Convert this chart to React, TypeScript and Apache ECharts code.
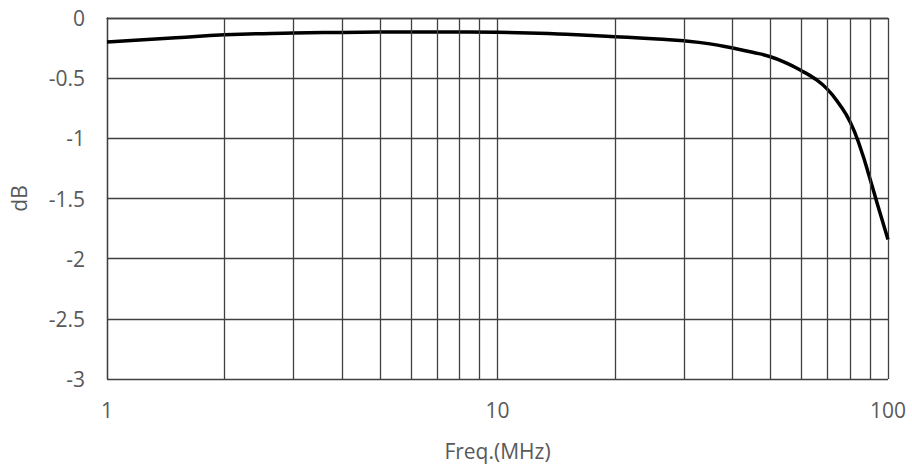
import React, { useEffect, useRef } from "react";
import * as echarts from "echarts";

const freqMHz = [1, 1.5, 2, 3, 4, 5, 7, 10, 15, 20, 25, 30, 35, 40, 45, 50, 55, 60, 65, 70, 75, 80, 85, 90, 95, 100];
const gainDb = [-0.2, -0.165, -0.14, -0.125, -0.12, -0.117, -0.116, -0.119, -0.135, -0.155, -0.172, -0.19, -0.215, -0.25, -0.285, -0.322, -0.375, -0.438, -0.505, -0.593, -0.715, -0.865, -1.08, -1.34, -1.6, -1.84];
const minorGridFreqs = [2, 3, 4, 5, 6, 7, 8, 9, 20, 30, 40, 50, 60, 70, 80, 90];

const FONT = "'Open Sans', sans-serif";
const TEXT_COLOR = "#595959";
const GRID_COLOR = "#404040";

export default function App() {
  const ref = useRef<HTMLDivElement>(null);
  useEffect(() => {
    if (!ref.current) return;
    const chart = echarts.init(ref.current, null, { renderer: "svg" });
    chart.setOption({
      animation: false,
      grid: { left: 107, right: 24, top: 18, bottom: 90 },
      xAxis: {
        type: "log",
        logBase: 10,
        min: 1,
        max: 100,
        name: "Freq.(MHz)",
        nameLocation: "middle",
        nameGap: 61,
        nameTextStyle: { fontFamily: FONT, fontSize: 21, color: TEXT_COLOR },
        axisLine: { show: true, lineStyle: { color: GRID_COLOR, width: 1.3 } },
        axisTick: { show: false },
        axisLabel: { fontFamily: FONT, fontSize: 21, color: TEXT_COLOR, margin: 20 },
        splitLine: { show: true, lineStyle: { color: GRID_COLOR, width: 1.3 } },
        minorTick: { show: false },
        minorSplitLine: { show: false },
      },
      yAxis: {
        type: "value",
        min: -3,
        max: 0,
        interval: 0.5,
        name: "dB",
        nameLocation: "middle",
        nameGap: 78,
        nameRotate: 90,
        nameTextStyle: { fontFamily: FONT, fontSize: 21, color: TEXT_COLOR },
        axisLine: { show: true, lineStyle: { color: GRID_COLOR, width: 1.3 } },
        axisTick: { show: false },
        axisLabel: { fontFamily: FONT, fontSize: 21, color: TEXT_COLOR, margin: 22 },
        splitLine: { show: true, lineStyle: { color: GRID_COLOR, width: 1.3 } },
      },
      series: [
        {
          type: "line",
          data: freqMHz.map((f, i) => [f, gainDb[i]]),
          smooth: 0.5,
          showSymbol: false,
          symbol: "none",
          lineStyle: { color: "#000000", width: 3.5 },
          markLine: {
            silent: true,
            symbol: "none",
            label: { show: false },
            lineStyle: { color: GRID_COLOR, width: 1.3, type: "solid" },
            data: minorGridFreqs.map((f) => ({ xAxis: f })),
          },
          z: 3,
        },
      ],
    });
    return () => chart.dispose();
  }, []);
  return (
    <div
      ref={ref}
      style={{ position: "absolute", left: 0, top: 0, width: 912, height: 469 }}
    />
  );
}
